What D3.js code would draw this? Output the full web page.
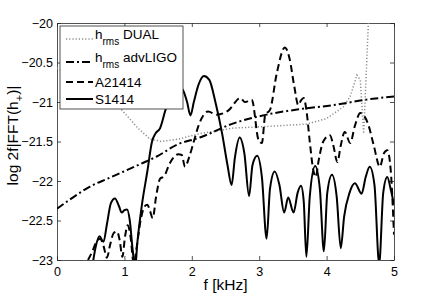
<!DOCTYPE html>
<html>
<head>
<meta charset="utf-8">
<script src="https://cdn.jsdelivr.net/npm/d3@7"></script>
<style>
  body { margin: 0; background: #fff; }
  svg text { font-family: "Liberation Sans", Arial, sans-serif; fill: #000; }
</style>
</head>
<body>
<div id="chart"></div>
<script>
// Data (f in kHz, log 2f|FFT(h+)|)
const dualF = [0, 0.3, 0.6, 0.96, 1.2, 1.38, 1.55, 1.8, 2.12, 2.62, 3.11, 3.7, 4.0, 4.25, 4.35, 4.45, 4.5, 4.55, 4.62, 4.65]
const dualV = [-20.57, -20.72, -20.88, -21.10, -21.33, -21.47, -21.50, -21.47, -21.40, -21.33, -21.31, -21.28, -21.21, -21.06, -20.93, -20.66, -20.72, -21.40, -20.0, -19.8]

const ligoF = [0, 0.25, 0.49, 0.75, 0.99, 1.25, 1.48, 1.78, 2.12, 2.62, 3.11, 3.61, 4.10, 4.59, 5.0]
const ligoV = [-22.35, -22.20, -22.07, -21.97, -21.88, -21.78, -21.69, -21.54, -21.45, -21.27, -21.16, -21.09, -21.04, -20.97, -20.93]

const aF = [0.46, 0.52, 0.58, 0.64, 0.69, 0.74, 0.79, 0.84, 0.89, 0.93, 0.97, 1.01, 1.05, 1.09, 1.14, 1.18, 1.24, 1.30, 1.34, 1.38, 1.42, 1.47, 1.53, 1.59, 1.66, 1.73, 1.80, 1.85, 1.90, 1.96, 2.03, 2.10, 2.17, 2.24, 2.37, 2.54, 2.72, 2.79, 2.89, 2.99, 3.04, 3.09, 3.16, 3.26, 3.38, 3.45, 3.52, 3.58, 3.62, 3.66, 3.70, 3.75, 3.80, 3.84, 3.88, 3.95, 4.05, 4.10, 4.16, 4.21, 4.27, 4.35, 4.42, 4.50, 4.56, 4.62, 4.70, 4.79, 4.85, 4.90, 4.95, 5.0]
const aV = [-23.0, -22.90, -22.78, -22.73, -22.82, -22.97, -22.80, -22.66, -22.64, -22.75, -22.96, -22.70, -22.56, -22.70, -23.05, -22.85, -22.50, -22.32, -22.30, -22.38, -22.47, -22.20, -21.97, -21.94, -21.80, -21.70, -21.66, -21.67, -21.82, -21.70, -21.50, -21.30, -21.17, -21.12, -21.16, -21.11, -20.95, -21.0, -20.97, -21.48, -21.52, -21.16, -21.10, -20.64, -20.31, -20.45, -20.80, -21.04, -20.98, -20.95, -21.10, -21.50, -21.85, -21.95, -21.75, -21.50, -21.42, -21.55, -21.76, -21.55, -21.38, -21.52, -21.30, -21.14, -21.18, -21.29, -21.55, -21.82, -21.65, -21.61, -21.85, -22.68]

const sF = [0.53, 0.57, 0.63, 0.69, 0.74, 0.80, 0.86, 0.92, 0.96, 1.00, 1.04, 1.08, 1.12, 1.16, 1.19, 1.26, 1.34, 1.41, 1.46, 1.53, 1.61, 1.70, 1.80, 1.87, 1.93, 1.98, 2.03, 2.10, 2.18, 2.26, 2.35, 2.45, 2.53, 2.59, 2.64, 2.71, 2.78, 2.85, 2.90, 2.97, 3.04, 3.11, 3.16, 3.23, 3.30, 3.37, 3.43, 3.51, 3.57, 3.62, 3.66, 3.70, 3.75, 3.83, 3.90, 3.96, 4.01, 4.08, 4.15, 4.21, 4.26, 4.34, 4.42, 4.52, 4.58, 4.64, 4.71, 4.78, 4.84, 4.90, 4.95, 5.0]
const sV = [-23.05, -22.85, -22.70, -22.77, -22.55, -22.28, -22.22, -22.32, -22.40, -22.37, -22.36, -22.50, -22.85, -23.1, -22.80, -22.30, -21.88, -21.50, -21.40, -21.33, -21.10, -20.90, -20.80, -20.85, -21.0, -21.17, -21.0, -20.78, -20.67, -20.72, -21.0, -21.4, -21.8, -22.05, -21.7, -21.45, -21.65, -22.19, -21.8, -21.68, -21.95, -22.73, -22.1, -21.88, -22.05, -22.40, -22.21, -22.40, -22.15, -22.06, -22.25, -22.96, -22.2, -21.81, -22.1, -22.89, -22.15, -21.92, -22.2, -22.85, -22.45, -22.15, -22.03, -22.16, -21.95, -21.82, -22.05, -23.05, -22.15, -21.95, -22.1, -22.3]

const xTicks = [0, 1, 2, 3, 4, 5]
const yTicks = [-23, -22.5, -22, -21.5, -21, -20.5, -20]

// Canvas
const W = 436, H = 297
const plot = { left: 57, right: 394, top: 23, bottom: 260 }

const svg = d3.select("#chart").append("svg")
	.attr("width", W)
	.attr("height", H)

const x = d3.scaleLinear().domain([0, 5]).range([plot.left, plot.right])
const y = d3.scaleLinear().domain([-23, -20]).range([plot.bottom, plot.top])

svg.append("clipPath").attr("id", "clip")
	.append("rect")
	.attr("x", plot.left).attr("y", plot.top)
	.attr("width", plot.right - plot.left)
	.attr("height", plot.bottom - plot.top)

// Axes (ticks point inward, box on all sides)
const axColor = "#262626"
function styleAxis(g) {
	g.select(".domain").attr("stroke", axColor).attr("stroke-width", 0.8)
	g.selectAll(".tick line").attr("stroke", axColor).attr("stroke-width", 0.8)
	g.selectAll(".tick text").attr("font-size", "12.5px").attr("fill", "#000")
		.attr("font-family", "Liberation Sans, Arial, sans-serif")
}

svg.append("g")
	.attr("transform", `translate(0, ${plot.bottom})`)
	.call(d3.axisBottom(x).tickValues(xTicks).tickFormat(d3.format("d")).tickSizeInner(-4).tickSizeOuter(0).tickPadding(7))
	.call(styleAxis)

svg.append("g")
	.attr("transform", `translate(${plot.left}, 0)`)
	.call(d3.axisLeft(y).tickValues(yTicks).tickFormat(d => d3.format("")(d).replace("-", "\u2212")).tickSizeInner(-4).tickSizeOuter(0).tickPadding(4))
	.call(styleAxis)

svg.append("g")
	.attr("transform", `translate(0, ${plot.top})`)
	.call(d3.axisTop(x).tickValues(xTicks).tickFormat("").tickSizeInner(-4).tickSizeOuter(0))
	.call(styleAxis)

svg.append("g")
	.attr("transform", `translate(${plot.right}, 0)`)
	.call(d3.axisRight(y).tickValues(yTicks).tickFormat("").tickSizeInner(-4).tickSizeOuter(0))
	.call(styleAxis)

// Curves
const line = d3.line()
	.x(d => x(d[0]))
	.y(d => y(d[1]))

const series = [
	{ f: dualF, v: dualV, color: "#8c8c8c", width: 1.5, dash: "1.2,2", curve: d3.curveLinear },
	{ f: ligoF, v: ligoV, color: "#000", width: 2, dash: "8,3,2,3", curve: d3.curveMonotoneX },
	{ f: aF, v: aV, color: "#000", width: 2, dash: "7,4", curve: d3.curveMonotoneX },
	{ f: sF, v: sV, color: "#000", width: 2, dash: null, curve: d3.curveMonotoneX }
]

const curves = svg.append("g").attr("clip-path", "url(#clip)")
series.forEach(s => {
	curves.append("path")
		.attr("fill", "none")
		.attr("stroke", s.color)
		.attr("stroke-width", s.width)
		.attr("stroke-dasharray", s.dash)
		.attr("d", line.curve(s.curve)(s.f.map((f, i) => [f, s.v[i]])))
})

// Legend
const legend = svg.append("g")
legend.append("rect")
	.attr("x", 60).attr("y", 26)
	.attr("width", 123).attr("height", 83)
	.attr("fill", "#fff")
	.attr("stroke", axColor)
	.attr("stroke-width", 0.8)

const legendRows = [
	{ s: series[0], y: 39, main: "h", sub: "rms", rest: " DUAL" },
	{ s: series[1], y: 62, main: "h", sub: "rms", rest: " advLIGO" },
	{ s: series[2], y: 82, main: "A21414", sub: null, rest: "" },
	{ s: series[3], y: 99, main: "S1414", sub: null, rest: "" }
]

legendRows.forEach(r => {
	legend.append("line")
		.attr("x1", 66).attr("x2", 93)
		.attr("y1", r.y).attr("y2", r.y)
		.attr("stroke", r.s.color)
		.attr("stroke-width", r.s.width)
		.attr("stroke-dasharray", r.s.dash)
	const t = legend.append("text")
		.attr("x", 95)
		.attr("y", r.sub ? r.y : r.y + 5)
		.attr("font-size", "13.5px")
	t.append("tspan").text(r.main)
	if (r.sub) {
		t.append("tspan").attr("font-size", "10px").attr("dy", 6).text(r.sub)
		t.append("tspan").attr("dy", -6).text(r.rest)
	}
})

// Axis labels
svg.append("text")
	.attr("x", (plot.left + plot.right) / 2)
	.attr("y", 290)
	.attr("text-anchor", "middle")
	.attr("font-size", "15.5px")
	.text("f [kHz]")

const yl = svg.append("text")
	.attr("transform", `translate(18, ${(plot.top + plot.bottom) / 2 - 6}) rotate(-90)`)
	.attr("text-anchor", "middle")
	.attr("font-size", "15.5px")
yl.append("tspan").text("log 2f|FFT(h")
yl.append("tspan").attr("font-size", "11px").attr("dy", 5).text("+")
yl.append("tspan").attr("dy", -5).text(")|")
</script>
</body>
</html>
